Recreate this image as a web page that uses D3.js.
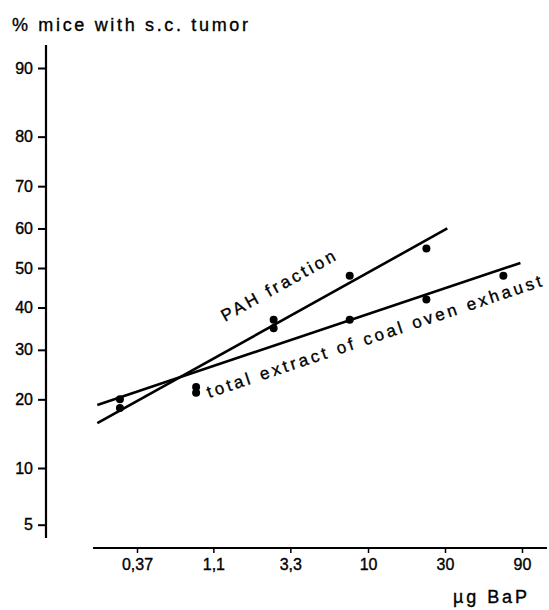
<!DOCTYPE html>
<html>
<head>
<meta charset="utf-8">
<title>tumor dose response</title>
<script src="https://cdn.jsdelivr.net/npm/d3@7"></script>
<style>
  body { margin: 0; background: #fff; }
  text { font-family: "Liberation Sans", Arial, sans-serif; fill: #000; stroke: #000; stroke-width: 0.35px; }
</style>
</head>
<body>
<script>
// data
var xTicks = [0.37, 1.1, 3.3, 10, 30, 90];
var xTickLabels = ["0,37", "1,1", "3,3", "10", "30", "90"];
var yTicks = [5, 10, 20, 30, 40, 50, 60, 70, 80, 90];

var pahDose = [0.29, 0.86, 2.6, 7.7, 23];
var pahPct = [18.5, 22.3, 37, 48, 55];
var totalDose = [0.29, 0.86, 2.6, 7.7, 23, 69];
var totalPct = [20, 21.2, 35, 37, 42, 48];

// fitted lines (end points)
var pahLineDose = [0.21, 31];
var pahLinePct = [16, 60];
var totalLineDose = [0.21, 88];
var totalLinePct = [19, 51.3];

var width = 549, height = 610;
var svg = d3.select("body").append("svg").attr("width", width).attr("height", height);

// inverse normal cdf (Acklam)
function probit(p) {
  var a = [-3.969683028665376e+01, 2.209460984245205e+02, -2.759285104469687e+02, 1.383577518672690e+02, -3.066479806614716e+01, 2.506628277459239e+00];
  var b = [-5.447609879822406e+01, 1.615858368580409e+02, -1.556989798598866e+02, 6.680131188771972e+01, -1.328068155288572e+01];
  var c = [-7.784894002430293e-03, -3.223964580411365e-01, -2.400758277161838e+00, -2.549732539343734e+00, 4.374664141464968e+00, 2.938163982698783e+00];
  var d = [7.784695709041462e-03, 3.224671290700398e-01, 2.445134137142996e+00, 3.754408661907416e+00];
  var pl = 0.02425, q, r;
  if (p < pl) {
    q = Math.sqrt(-2 * Math.log(p));
    return (((((c[0]*q+c[1])*q+c[2])*q+c[3])*q+c[4])*q+c[5]) / ((((d[0]*q+d[1])*q+d[2])*q+d[3])*q+1);
  }
  if (p <= 1 - pl) {
    q = p - 0.5; r = q * q;
    return (((((a[0]*r+a[1])*r+a[2])*r+a[3])*r+a[4])*r+a[5])*q / (((((b[0]*r+b[1])*r+b[2])*r+b[3])*r+b[4])*r+1);
  }
  q = Math.sqrt(-2 * Math.log(1 - p));
  return -(((((c[0]*q+c[1])*q+c[2])*q+c[3])*q+c[4])*q+c[5]) / ((((d[0]*q+d[1])*q+d[2])*q+d[3])*q+1);
}

var x = d3.scaleLog().domain([0.37, 90]).range([137, 522]);
var yz = d3.scaleLinear().domain([probit(0.1), probit(0.9)]).range([468, 68]);
var y = function(pct) { return yz(probit(pct / 100)); };

// axes
var yAxis = d3.axisLeft(yz)
  .tickValues(yTicks.map(function(p) { return probit(p / 100); }))
  .tickFormat(function(d, i) { return yTicks[i]; })
  .tickSize(8).tickPadding(5);
var gy = svg.append("g").attr("transform", "translate(46,0)").call(yAxis);
gy.select(".domain").remove();
gy.selectAll(".tick line").attr("stroke", "#000").attr("stroke-width", 2);
gy.selectAll(".tick text").style("font-size", "16px").attr("font-family", null);

svg.append("line").attr("x1", 46).attr("x2", 46).attr("y1", 45).attr("y2", 538)
  .attr("stroke", "#000").attr("stroke-width", 2.2);

var xAxis = d3.axisBottom(x)
  .tickValues(xTicks)
  .tickFormat(function(d, i) { return xTickLabels[i]; })
  .tickSize(5).tickPadding(6);
var gx = svg.append("g").attr("transform", "translate(0,548)").call(xAxis);
gx.select(".domain").remove();
gx.selectAll(".tick line").attr("stroke", "#000").attr("stroke-width", 1.5);
gx.selectAll(".tick text").style("font-size", "16px").attr("font-family", null);

svg.append("line").attr("x1", 93).attr("x2", 547).attr("y1", 548).attr("y2", 548)
  .attr("stroke", "#000").attr("stroke-width", 2.2);

// titles
svg.append("text").attr("x", 12).attr("y", 31)
  .attr("textLength", 236).attr("lengthAdjust", "spacing")
  .style("font-size", "18px").text("% mice with s.c. tumor");
svg.append("text").attr("x", 453).attr("y", 603)
  .attr("textLength", 74).attr("lengthAdjust", "spacing")
  .style("font-size", "18px").text("µg BaP");

// fitted lines
var line = d3.line().x(function(d) { return x(d[0]); }).y(function(d) { return y(d[1]); });
svg.append("path").attr("d", line(d3.zip(pahLineDose, pahLinePct)))
  .attr("fill", "none").attr("stroke", "#000").attr("stroke-width", 2.6);
svg.append("path").attr("d", line(d3.zip(totalLineDose, totalLinePct)))
  .attr("fill", "none").attr("stroke", "#000").attr("stroke-width", 2.6);

// points
svg.selectAll("circle.pah").data(d3.zip(pahDose, pahPct)).enter().append("circle")
  .attr("class", "pah").attr("cx", function(d) { return x(d[0]); }).attr("cy", function(d) { return y(d[1]); })
  .attr("r", 4).attr("fill", "#000");
svg.selectAll("circle.tot").data(d3.zip(totalDose, totalPct)).enter().append("circle")
  .attr("class", "tot").attr("cx", function(d) { return x(d[0]); }).attr("cy", function(d) { return y(d[1]); })
  .attr("r", 4).attr("fill", "#000");

// line labels, rotated along the lines
function angleOf(doses, pcts) {
  var dx = x(doses[1]) - x(doses[0]), dy = y(pcts[1]) - y(pcts[0]);
  return Math.atan2(dy, dx) * 180 / Math.PI;
}
var aPah = angleOf(pahLineDose, pahLinePct);
var aTot = angleOf(totalLineDose, totalLinePct);

svg.append("text")
  .attr("transform", "translate(225,322) rotate(" + aPah + ")")
  .attr("textLength", 128).attr("lengthAdjust", "spacing")
  .style("font-size", "17px").text("PAH fraction");
svg.append("text")
  .attr("transform", "translate(209,398) rotate(" + aTot + ")")
  .attr("textLength", 352).attr("lengthAdjust", "spacing")
  .style("font-size", "17px").text("total extract of coal oven exhaust");
</script>
</body>
</html>
